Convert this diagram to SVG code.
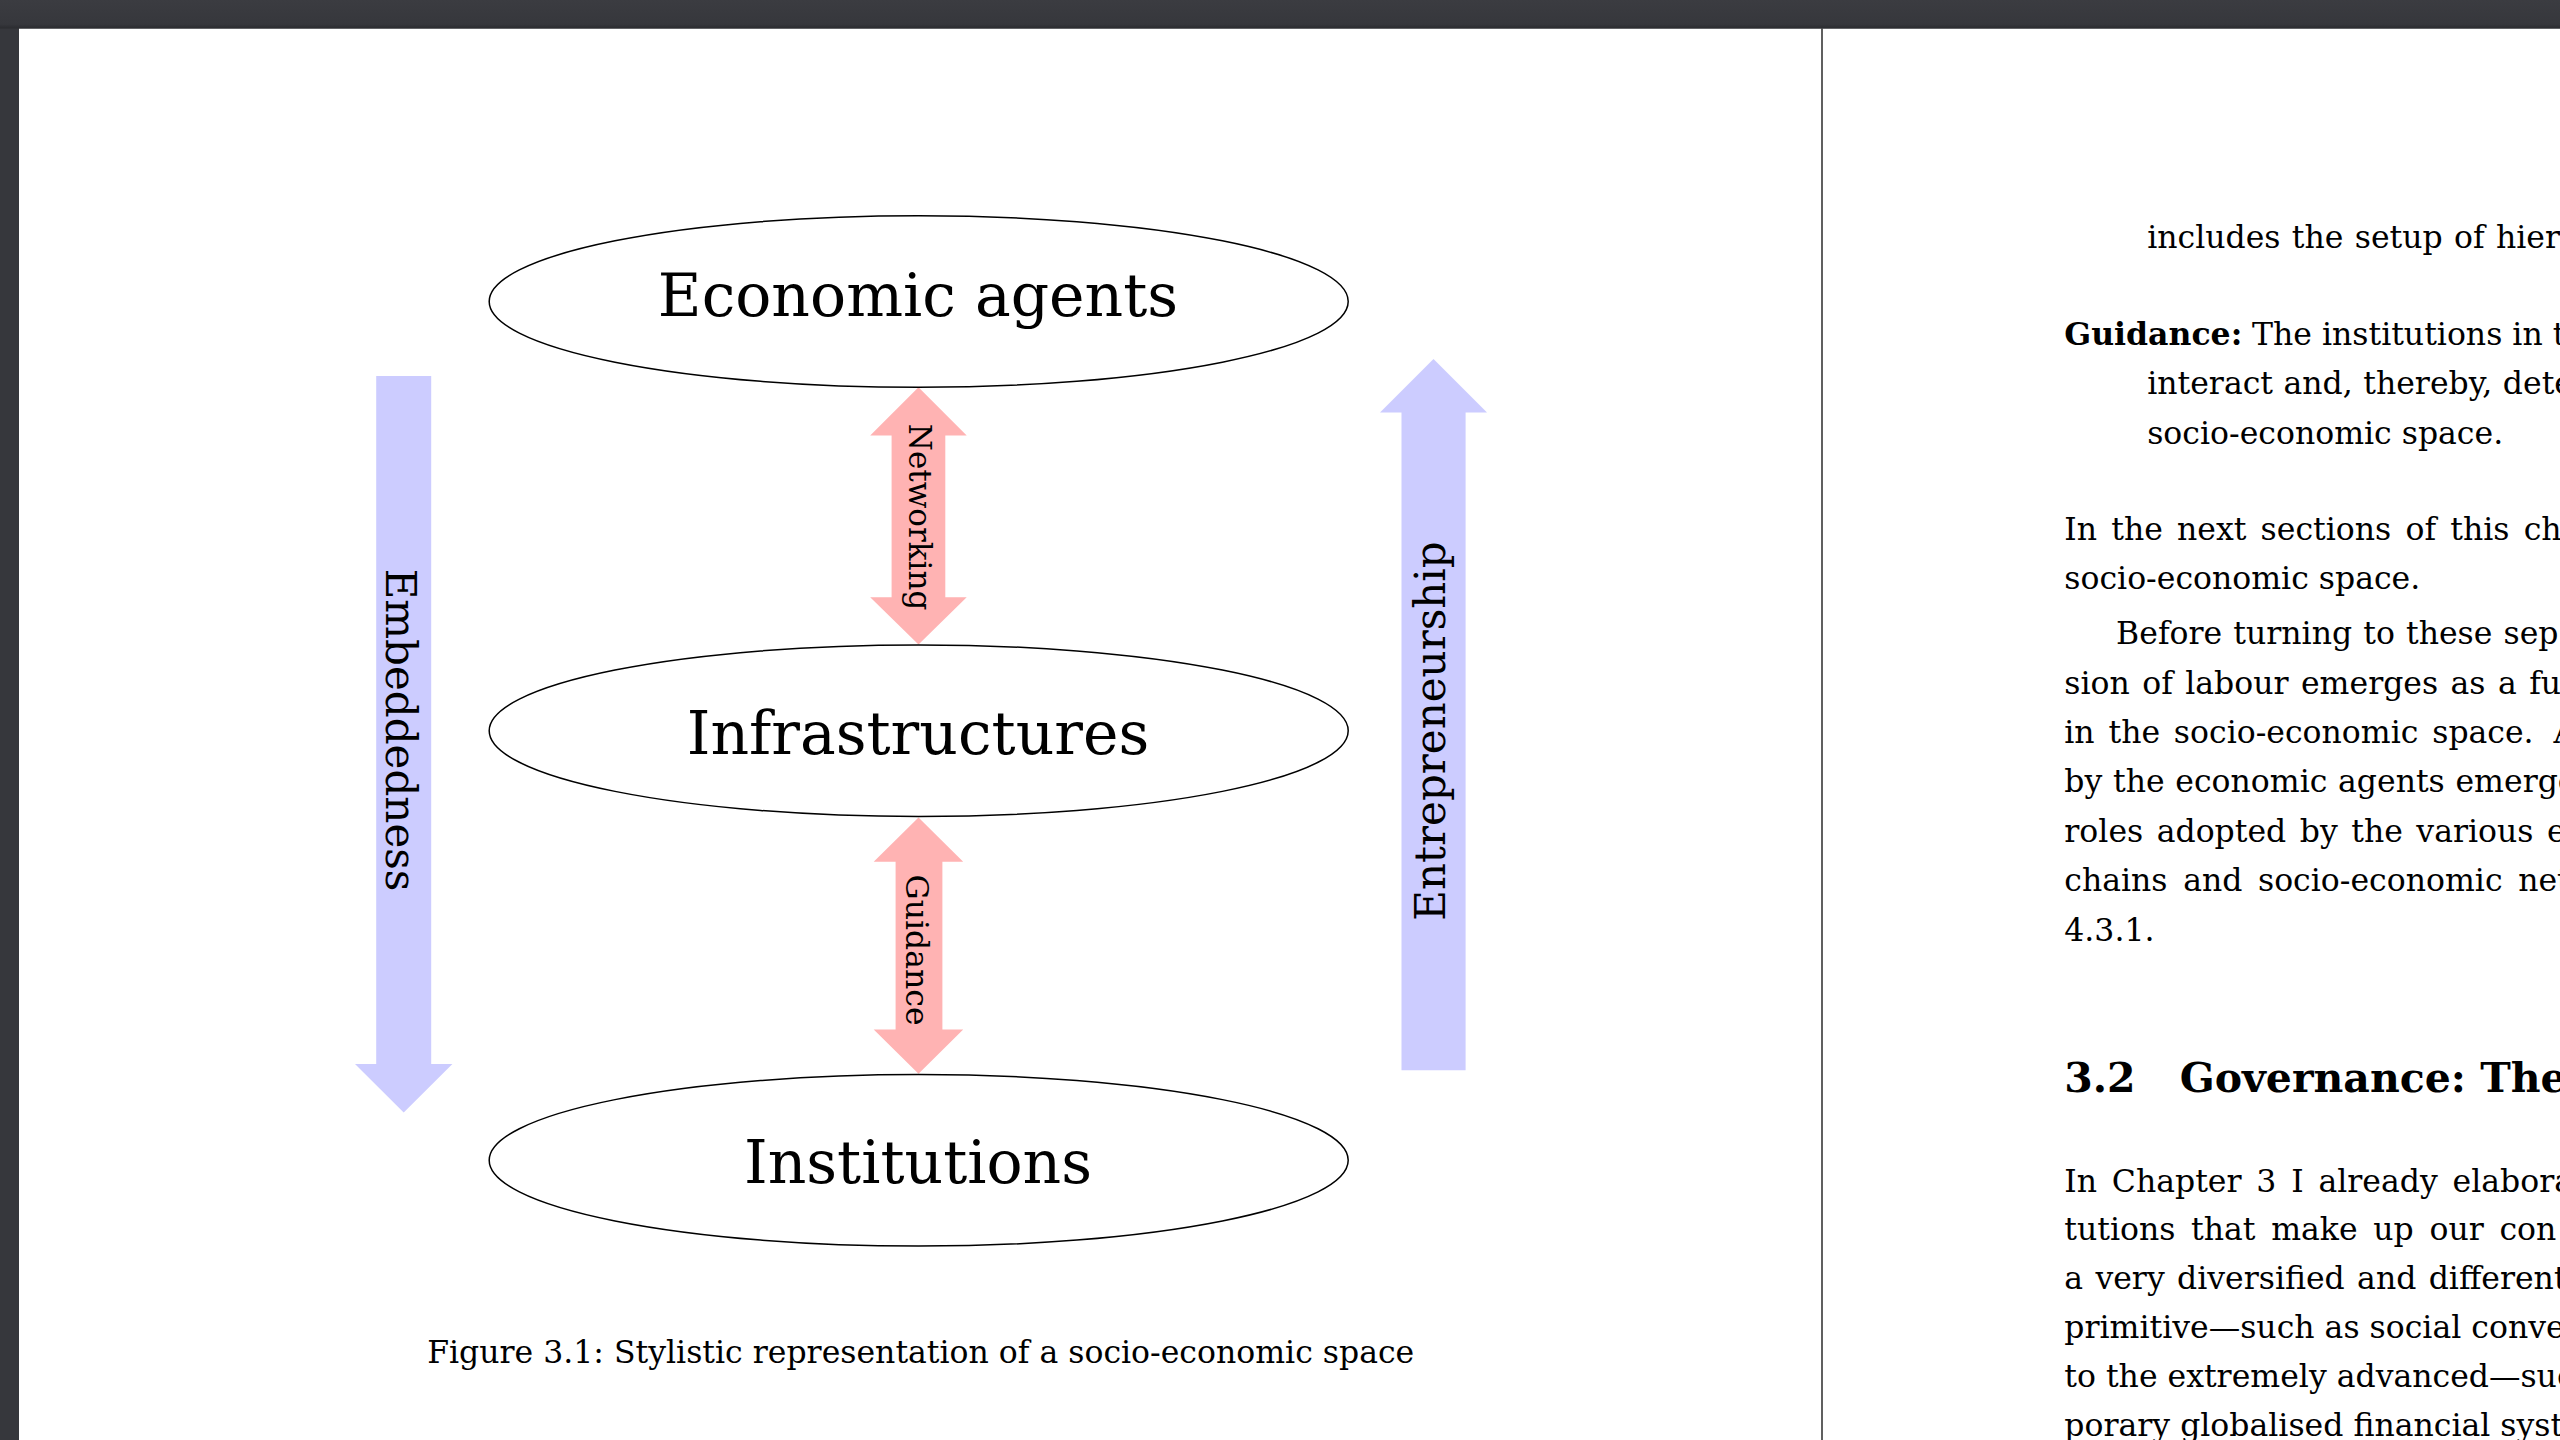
<svg xmlns="http://www.w3.org/2000/svg" width="2560" height="1440" viewBox="0 0 2560 1440">
  <style>
    .serif { font-family: "DejaVu Serif", "Liberation Serif", serif; fill: #000; }
    .node-shape { fill: #fff; stroke: #000; stroke-width: 1.5; }
    .node-label { font-size: 60px; text-anchor: middle; }
    .pink { fill: #FFB3B3; }
    .blue { fill: #CCCCFF; }
    .arrow-label { text-anchor: middle; }
    .body { font-size: 31.5px; }
    .bold { font-weight: bold; }
  </style>
  <defs>
    <linearGradient id="bar" x1="0" y1="0" x2="0" y2="1">
      <stop offset="0" stop-color="#3b3c41"/>
      <stop offset="0.85" stop-color="#36373c"/>
      <stop offset="1" stop-color="#2a2b2f"/>
    </linearGradient>
  </defs>

  <!-- viewer chrome and pages -->
  <rect x="0" y="0" width="2560" height="1440" fill="#36373c"/>
  <rect x="19" y="28.5" width="2541" height="1411.5" fill="#ffffff"/>
  <rect x="0" y="0" width="2560" height="28.5" fill="url(#bar)"/>
  <line x1="1822" y1="28.5" x2="1822" y2="1440" stroke="#2b2b2b" stroke-width="1.5"/>

  <!-- connectors -->
  <g id="connectors">
    <g id="edge-embeddedness">
      <polygon class="blue" points="376.2,376 431.2,376 431.2,1064 452.4,1064 403.7,1112.5 355,1064 376.2,1064"/>
      <text class="serif arrow-label" font-size="42" transform="translate(386,730) rotate(90)">Embeddedness</text>
    </g>
    <g id="edge-entrepreneurship">
      <polygon class="blue" points="1401.5,1070.2 1401.5,412.6 1380,412.6 1433.5,358.9 1487,412.6 1465.6,412.6 1465.6,1070.2"/>
      <text class="serif arrow-label" font-size="42" transform="translate(1445,731) rotate(-90)">Entrepreneurship</text>
    </g>
    <g id="edge-networking">
      <polygon class="pink" points="918.5,387.3 966.7,435.5 945.3,435.5 945.3,597.2 966.7,597.2 918.5,644.4 870.2,597.2 891.6,597.2 891.6,435.5 870.2,435.5"/>
      <text class="serif arrow-label" font-size="31" transform="translate(909,517) rotate(90)">Networking</text>
    </g>
    <g id="edge-guidance">
      <polygon class="pink" points="918.5,817.5 963.2,861.8 942.4,861.8 942.4,1029.4 963.2,1029.4 918.5,1073.7 873.7,1029.4 895.6,1029.4 895.6,861.8 873.7,861.8"/>
      <text class="serif arrow-label" font-size="31.5" transform="translate(906,950) rotate(90)">Guidance</text>
    </g>
  </g>

  <!-- nodes -->
  <g id="node-economic-agents">
    <ellipse class="node-shape" cx="918.7" cy="301.5" rx="429.5" ry="85.8"/>
    <text class="serif node-label" x="918" y="316">Economic agents</text>
  </g>
  <g id="node-infrastructures">
    <ellipse class="node-shape" cx="918.7" cy="730.7" rx="429.5" ry="85.8"/>
    <text class="serif node-label" x="918" y="754">Infrastructures</text>
  </g>
  <g id="node-institutions">
    <ellipse class="node-shape" cx="918.7" cy="1160.3" rx="429.5" ry="85.8"/>
    <text class="serif node-label" x="918" y="1182.5">Institutions</text>
  </g>

  <!-- caption -->
  <text id="caption" class="serif body" x="920.7" y="1363.3" text-anchor="middle">Figure 3.1: Stylistic representation of a socio-economic space</text>

  <!-- right page text -->
  <g id="right-page">
    <text class="serif body" x="2147.2" y="248" word-spacing="1.3">includes the setup of hier</text>
    <text class="serif body bold" x="2064.3" y="345">Guidance:</text>
    <text class="serif body" x="2252" y="345">The institutions in t</text>
    <text class="serif body" x="2147.2" y="394.2" word-spacing="0.5">interact and, thereby, dete</text>
    <text class="serif body" x="2147.2" y="444.1">socio-economic space.</text>
    <text class="serif body" x="2064.3" y="539.6" word-spacing="4.2">In the next sections of this ch</text>
    <text class="serif body" x="2064.3" y="589.2">socio-economic space.</text>
    <text class="serif body" x="2116.1" y="643.9" word-spacing="1.1">Before turning to these sep</text>
    <text class="serif body" x="2064.3" y="693.6" word-spacing="2.4">sion of labour emerges as a fu</text>
    <text class="serif body" x="2064.3" y="743" word-spacing="3.8">in the socio-economic space. <tspan dx="6">A</tspan></text>
    <text class="serif body" x="2064.3" y="792.4" word-spacing="0.7">by the economic agents emerge</text>
    <text class="serif body" x="2064.3" y="841.8" word-spacing="3.5">roles adopted by the various e</text>
    <text class="serif body" x="2064.3" y="891.2" word-spacing="5.6">chains and socio-economic net</text>
    <text class="serif body" x="2064.3" y="940.6">4.3.1.</text>
    <text class="serif bold" font-size="41" x="2064.3" y="1092">3.2</text>
    <text class="serif bold" font-size="41" x="2179.7" y="1092">Governance: The</text>
    <text class="serif body" x="2064.3" y="1191.5" word-spacing="4.8">In Chapter 3 I already elabora</text>
    <text class="serif body" x="2064.3" y="1240.3" word-spacing="5.7">tutions that make up our con</text>
    <text class="serif body" x="2064.3" y="1289.1" word-spacing="2.3">a very diversified and different</text>
    <text class="serif body" x="2064.3" y="1337.9">primitive—such as social conve</text>
    <text class="serif body" x="2064.3" y="1386.7">to the extremely advanced—suc</text>
    <text class="serif body" x="2064.3" y="1435.5">porary globalised financial syst</text>
  </g>
</svg>
